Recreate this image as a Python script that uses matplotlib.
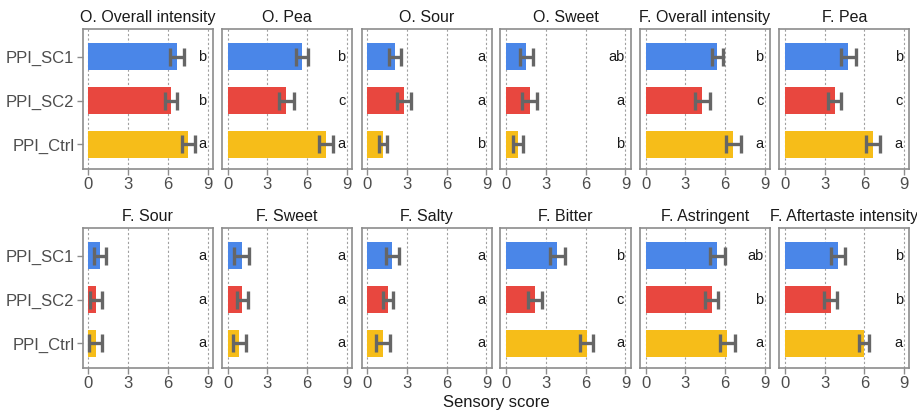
import matplotlib
matplotlib.use("Agg")
import matplotlib.pyplot as plt
import numpy as np

plt.rcParams['font.family'] = ['Liberation Sans', 'DejaVu Sans']

samples = ["PPI_SC1", "PPI_SC2", "PPI_Ctrl"]
bar_colors = ["#4a86e8", "#e8473f", "#f6bd19"]

attributes = ["O. Overall intensity", "O. Pea", "O. Sour", "O. Sweet",
              "F. Overall intensity", "F. Pea",
              "F. Sour", "F. Sweet", "F. Salty", "F. Bitter",
              "F. Astringent", "F. Aftertaste intensity"]

# mean scores per attribute, order: SC1, SC2, Ctrl
means = [
    [6.66, 6.26, 7.54],
    [5.60, 4.43, 7.43],
    [2.09, 2.76, 1.21],
    [1.53, 1.78, 0.88],
    [5.42, 4.29, 6.60],
    [4.79, 3.76, 6.62],
    [0.88, 0.58, 0.55],
    [1.05, 1.10, 0.88],
    [1.91, 1.58, 1.21],
    [3.87, 2.16, 6.08],
    [5.42, 4.99, 6.17],
    [3.99, 3.46, 5.96],
]
errors = [
    [0.53, 0.44, 0.48],
    [0.44, 0.58, 0.52],
    [0.44, 0.53, 0.29],
    [0.50, 0.57, 0.39],
    [0.44, 0.54, 0.56],
    [0.58, 0.50, 0.53],
    [0.48, 0.44, 0.46],
    [0.56, 0.41, 0.50],
    [0.48, 0.40, 0.53],
    [0.57, 0.53, 0.48],
    [0.54, 0.49, 0.54],
    [0.53, 0.50, 0.38],
]
letters = [
    ["b", "b", "a"], ["b", "c", "a"], ["a", "a", "b"], ["ab", "a", "b"],
    ["b", "c", "a"], ["b", "c", "a"], ["a", "a", "a"], ["a", "a", "a"],
    ["a", "a", "a"], ["b", "c", "a"], ["ab", "b", "a"], ["b", "b", "a"],
]
xticks = [0, 3, 6, 9]

W, H = 917, 413
fig = plt.figure(figsize=(W / 100, H / 100), dpi=100)

lefts = [82.7, 222.0, 361.5, 500.5, 640.0, 779.3]
pw = 130.0
row_tops = [29.0, 228.0]
ph = 140.0

ypos = np.array([2, 1, 0])
edge = "#8c8c8c"

for i, attr in enumerate(attributes):
    r, c = divmod(i, 6)
    ax = fig.add_axes([lefts[c] / W, 1 - (row_tops[r] + ph) / H, pw / W, ph / H])
    for x in xticks:
        ax.axvline(x, color="#a0a0a0", lw=0.8, ls=(0, (2, 2)), zorder=0)
    ax.barh(ypos, means[i], height=0.6, color=bar_colors, zorder=2)
    ax.errorbar(means[i], ypos, xerr=errors[i], fmt="none", ecolor="#666666",
                elinewidth=2.4, capsize=6.5, capthick=2.4, zorder=3)
    for y, lab in zip(ypos, letters[i]):
        ax.text(8.9, y, lab, ha="right", va="center", fontsize=10.5, color="#1a1a1a")
    ax.set_xlim(-0.42, 9.38)
    ax.set_ylim(-0.56, 2.63)
    ax.set_xticks(xticks)
    ax.set_xticklabels([str(t) for t in xticks])
    ax.set_yticks(ypos)
    if c == 0:
        ax.set_yticklabels(samples)
    else:
        ax.set_yticklabels([])
    ax.tick_params(axis="both", labelsize=12, labelcolor="#4d4d4d", color=edge,
                   width=1.0, length=4, pad=2)
    if c != 0:
        ax.tick_params(axis="y", length=0)
    for s in ax.spines.values():
        s.set_color(edge)
        s.set_linewidth(1.2)
    ax.set_title(attr, fontsize=11.5, color="#1a1a1a", pad=5)

fig.text(496 / W, 1 - 403 / H, "Sensory score", ha="center", va="center",
         fontsize=12, color="#1a1a1a")

fig.savefig("out.png", dpi=100, facecolor="white")
